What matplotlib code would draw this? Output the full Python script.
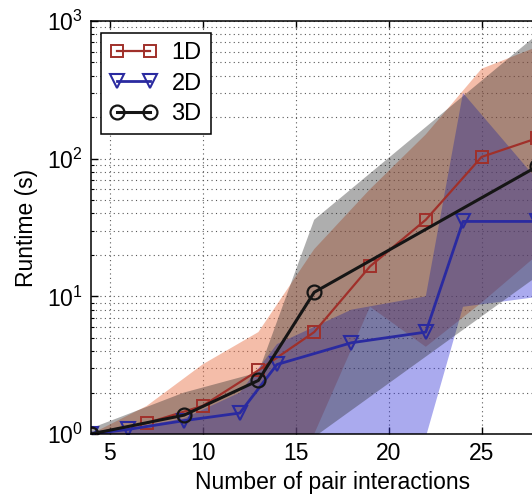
import numpy as np
import matplotlib
matplotlib.use('Agg')
import matplotlib.pyplot as plt

plt.rcParams['font.family'] = ['Liberation Sans', 'DejaVu Sans']
plt.rcParams['mathtext.fontset'] = 'custom'
plt.rcParams['mathtext.rm'] = 'Liberation Sans'

# ---- median runtimes ----
x_1d = [4, 7, 10, 13, 16, 19, 22, 25, 28]
rt_1d = [1.0, 1.2, 1.6, 2.9, 5.5, 16.5, 36, 103, 141]

x_2d = [4, 6, 9, 12, 14, 18, 22, 24, 28]
rt_2d = [1.0, 1.08, 1.25, 1.42, 3.2, 4.6, 5.5, 35, 35]

x_3d = [4, 9, 13, 16, 28]
rt_3d = [1.0, 1.37, 2.45, 10.7, 88]

# ---- min / max envelopes ----
lo_1d = [0.9, 0.95, 1.0, 1.0, 1.0, 8.4, 4.3, 9, 20]
hi_1d = [1.0, 1.6, 3.2, 5.5, 22, 60, 150, 450, 650]

lo_2d = [0.9, 0.9, 0.9, 0.9, 0.9, 0.9, 0.95, 8.4, 9.9]
hi_2d = [1.05, 1.1, 1.3, 2.0, 4.5, 8, 10, 300, 70]

lo_3d = [0.9, 0.9, 0.9, 0.95, 14]
hi_3d = [1.1, 2.0, 2.8, 36, 800]

labels = ['1D', '2D', '3D']
xticks = [5, 10, 15, 20, 25]

fig = plt.figure(figsize=(5.32, 4.95), dpi=100)
# axes run past the right edge of the canvas
ax = fig.add_axes([91 / 532, 61 / 495, 483.6 / 532, 413 / 495])

# shaded envelopes
ax.fill_between(x_1d, lo_1d, hi_1d, facecolor='#e8734a', alpha=0.47, lw=0)
ax.fill_between(x_2d, lo_2d, hi_2d, facecolor='#3535d8', alpha=0.42, lw=0)
ax.fill_between(x_3d, lo_3d, hi_3d, facecolor='#2a2a2a', alpha=0.38, lw=0)

# median curves
l1, = ax.plot(x_1d, rt_1d, '-s', color='#a0302a', lw=1.6, ms=9,
              mfc='none', mew=1.4, label=labels[0])
l2, = ax.plot(x_2d, rt_2d, '-v', color='#2a2aa0', lw=2.0, ms=9.5,
              mfc='none', mew=1.5, label=labels[1])
l3, = ax.plot(x_3d, rt_3d, '-o', color='#151515', lw=2.2, ms=10,
              mfc='none', mew=1.6, label=labels[2])

ax.set_yscale('log')
ax.set_xlim(4, 30)
ax.set_ylim(1, 1000)
ax.set_xticks(xticks)

ax.grid(True, which='major', axis='x', ls=(0, (1, 3)), color='0.35', lw=0.8)
ax.grid(True, which='both', axis='y', ls=(0, (1, 3)), color='0.35', lw=0.8)
ax.set_axisbelow(True)

ax.tick_params(which='both', direction='in', top=True, right=True,
               labelsize=16.5, pad=6)
ax.tick_params(which='major', length=5, width=1)
ax.tick_params(which='minor', length=2.5, width=0.8)
ax.xaxis.set_minor_locator(matplotlib.ticker.NullLocator())
for s in ax.spines.values():
    s.set_linewidth(1.1)

ax.set_xlabel('Number of pair interactions', fontsize=16.5, labelpad=4)
ax.set_ylabel('Runtime (s)', fontsize=16.5, labelpad=6)

leg = ax.legend(handles=[l1, l2, l3], loc='upper left',
                bbox_to_anchor=(0.02, 0.971), borderaxespad=0,
                fontsize=17, numpoints=2, handlelength=2.0,
                labelspacing=0.35, handletextpad=0.6,
                fancybox=False, framealpha=1, edgecolor='black')
leg.get_frame().set_linewidth(1.1)

fig.savefig('out.png', dpi=100)
